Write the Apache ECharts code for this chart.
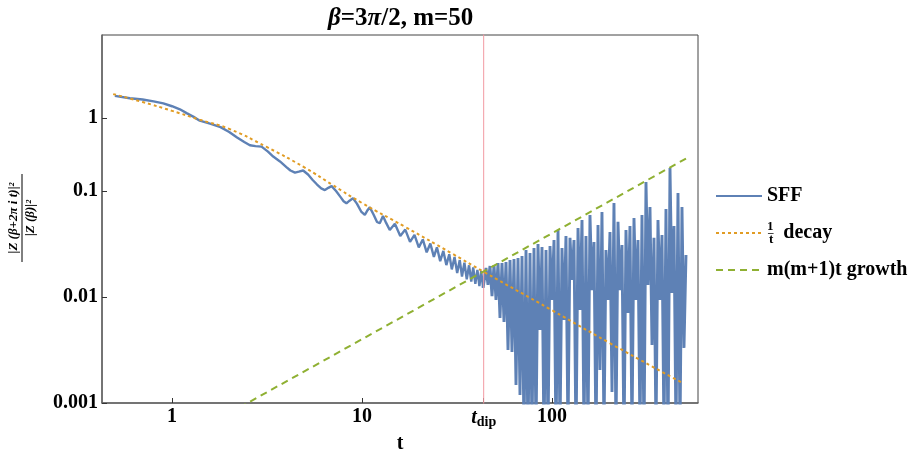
<!DOCTYPE html>
<html><head><meta charset="utf-8">
<script src="https://cdn.jsdelivr.net/npm/echarts@6/dist/echarts.min.js"></script>
<style>html,body{margin:0;padding:0;background:#fff;overflow:hidden}#c{width:915px;height:450px}</style>
</head><body><div id="c"></div>
<script>
// SFF, early smooth part
const sffT1 = [0.5,0.6,0.7,0.8,0.9,1.0,1.1,1.2,1.3,1.4,1.6,1.8,2.0,2.2,2.4,2.57,2.75,2.96,3.2,3.41,3.7,4.0,4.2,4.44,4.65,4.9,5.2,5.5,5.8,6.1,6.38,6.65,6.92,7.3,7.7,8.0,8.28,8.6,8.97,9.4,9.9,10.35,10.7,11.0,11.5,12.0,12.4,12.9,13.4,14.0];
const sffV1 = [0.79,0.75,0.73,0.70,0.67,0.63,0.59,0.54,0.50,0.46,0.43,0.40,0.36,0.32,0.29,0.27,0.265,0.262,0.235,0.211,0.19,0.168,0.156,0.149,0.152,0.156,0.143,0.127,0.115,0.106,0.102,0.107,0.111,0.10,0.088,0.08,0.0765,0.081,0.0853,0.076,0.064,0.0595,0.066,0.070,0.06,0.051,0.0496,0.058,0.05,0.0429];
// SFF, oscillations before the dip
const sffT2 = [14.9,15.9,16.9,17.9,18.9,19.9,20.9,21.9,22.9,23.9,24.8,25.8,26.8,27.8,28.8,29.7,30.7,31.7,32.7,33.6,34.6,35.6,36.6,37.6,38.5,39.5,40.5,41.5,42.4,43.4];
const sffV2 = [0.049,0.0377,0.0432,0.0331,0.0386,0.0294,0.0349,0.0264,0.0319,0.0239,0.0294,0.0218,0.0272,0.02,0.0253,0.0182,0.0238,0.0168,0.0223,0.0156,0.0211,0.0147,0.0199,0.014,0.019,0.0133,0.018,0.0127,0.0175,0.0122];
// SFF, ramp / plateau region after the dip
const sffT3 = [44.95,46.05,47.18,48.34,49.53,50.74,51.99,53.26,54.57,55.91,57.28,58.69,60.13,61.6,63.11,64.66,66.25,67.87,69.54,71.24,72.99,74.78,76.62,78.5,80.42,82.4,84.42,86.49,88.61,90.79,93.02,95.3,97.64,100.0,102.5,105.0,107.6,110.2,112.9,115.7,118.5,121.4,124.4,127.5,130.6,133.8,137.1,140.4,143.9,147.4,151.0,154.7,158.5,162.4,166.4,170.5,174.7,178.9,183.3,187.8,192.4,197.2,202.0,207.0,212.0,217.2,222.6,228.0,233.6,239.4,245.2,251.2,257.4,263.7,270.2,276.8,283.6,290.6,297.7,305.0,312.5,320.2,328.0,336.1,344.3,352.8,361.4,370.3,379.4,388.7,398.2,408.0,418.0,428.3,438.8,449.5,460.6,471.9,483.4,495.3,507.5];
const sffV3 = [0.0188,0.013,0.0196,0.0102,0.02,0.00937,0.0209,0.00634,0.0209,0.00581,0.0214,0.00316,0.0223,0.00303,0.0228,0.00148,0.0233,0.00119,0.0244,0.0005,0.0277,0.0004,0.026,0.0005,0.029,0.0005,0.0316,0.00489,0.0296,0.0004,0.0277,0.0005,0.0303,0.00937,0.0345,0.0004,0.0429,0.0005,0.029,0.00607,0.0376,0.0005,0.0361,0.01445,0.0345,0.0004,0.0448,0.00754,0.0532,0.0005,0.0376,0.0005,0.0594,0.0116,0.033,0.0004,0.0478,0.00205,0.0634,0.0005,0.0277,0.00937,0.041,0.00127,0.0771,0.0005,0.0511,0.0116,0.0309,0.0004,0.0429,0.00706,0.0468,0.0005,0.0556,0.00937,0.0345,0.0005,0.0594,0.0004,0.1216,0.013,0.0706,0.00352,0.0361,0.0005,0.0532,0.00937,0.0385,0.0005,0.0676,0.0004,0.165,0.0109,0.0468,0.0005,0.0957,0.0005,0.0706,0.00331,0.0249];
// 1/t decay curve
const decayT = [0.49,0.7,1.0,1.4,2.0,3.15,5.0,7.0,10,16.8,30,43.7,100,200,491];
const decayV = [0.82,0.69,0.57,0.47,0.385,0.26,0.166,0.114,0.077,0.046,0.0255,0.0173,0.0075,0.0037,0.00153];
// m(m+1)t growth line
const growthT = [2.0, 512];
const growthV = [0.0008, 0.204];
// dip time marker
const tDip = 43.7;
const dipV = [0.0005, 5];
// tick labels
const xTickValues = [1, 10, tDip, 100];
const xTickLabels = ['1', '10', 't_dip', '100'];
const yTickValues = [0.001, 0.01, 0.1, 0.49];
const yTickLabels = ['0.001', '0.01', '0.1', '1'];
const seriesNames = ['SFF', '1/t decay', 'm(m+1)t growth'];

const FONT = '"Liberation Serif", "Times New Roman", serif';
const zip = (a, b) => a.map((v, i) => [v, b[i]]);
const sffEarly = zip(sffT1.concat(sffT2), sffV1.concat(sffV2));
const sffLate = [sffEarly[sffEarly.length - 1]].concat(zip(sffT3, sffV3));
function nearIdx(arr, v) {
  for (let i = 0; i < arr.length; i++) {
    if (Math.abs(Math.log10(v) - Math.log10(arr[i])) < 0.004) return i;
  }
  return -1;
}
const BLUE = '#5e81b5';

const chart = echarts.init(document.getElementById('c'));
chart.setOption({
  animation: false,
  backgroundColor: '#fff',
  textStyle: { fontFamily: FONT },
  title: {
    text: '{i|β}=3{i|π}/2, m=50',
    left: 323, top: 1,
    textStyle: {
      fontFamily: FONT, fontWeight: 'bold', fontSize: 25, color: '#000',
      rich: { i: { fontFamily: FONT, fontStyle: 'italic', fontWeight: 'bold', fontSize: 25, color: '#000' } }
    }
  },
  grid: { left: 102, right: 217, top: 35, bottom: 47, show: true, borderColor: '#444', borderWidth: 1, containLabel: false, outerBoundsMode: 'none' },
  legend: {
    orient: 'vertical', left: 710, top: 181,
    itemWidth: 46, itemHeight: 14, itemGap: 14,
    data: seriesNames,
    itemStyle: { opacity: 0 },
    textStyle: {
      fontFamily: FONT, fontWeight: 'bold', fontSize: 20, color: '#000',
      rich: {
        n: { fontFamily: FONT, fontWeight: 'bold', fontSize: 13, lineHeight: 13, width: 1, align: 'left', verticalAlign: 'top', color: '#000' },
        bar: { fontFamily: FONT, fontWeight: 'bold', fontSize: 11, width: 1, align: 'left', verticalAlign: 'middle', color: '#000' },
        d: { fontFamily: FONT, fontWeight: 'bold', fontSize: 13, lineHeight: 13, verticalAlign: 'bottom', color: '#000' },
        b: { fontFamily: FONT, fontWeight: 'bold', fontSize: 20, lineHeight: 26, color: '#000' }
      }
    },
    formatter: function (name) {
      if (name === '1/t decay') return '{n|1}{bar|–}{d|t}{b|  decay}';
      return name;
    }
  },
  xAxis: {
    type: 'log', min: 0.428, max: 587,
    name: 't', nameLocation: 'middle', nameGap: 29,
    nameTextStyle: { fontFamily: FONT, fontWeight: 'bold', fontSize: 20, color: '#000' },
    axisLine: { show: true, lineStyle: { color: '#666', width: 1.5 } },
    axisTick: { show: true, inside: true, length: 5, lineStyle: { color: '#333' }, customValues: xTickValues },
    splitLine: { show: false },
    minorTick: { show: false },
    axisLabel: {
      customValues: xTickValues,
      margin: 4, color: '#000', fontFamily: FONT, fontWeight: 'bold', fontSize: 20,
      formatter: function (v) {
        const i = nearIdx(xTickValues, v);
        if (i < 0) return '';
        if (xTickLabels[i] === 't_dip') return '{it|t}{sub|dip}';
        return xTickLabels[i];
      },
      rich: {
        it: { fontFamily: FONT, fontStyle: 'italic', fontWeight: 'bold', fontSize: 20, color: '#000' },
        sub: { fontFamily: FONT, fontWeight: 'bold', fontSize: 14, color: '#000', padding: [8, 0, 0, 0] }
      }
    }
  },
  yAxis: {
    type: 'log', min: 0.001, max: 2.96,
    axisLine: { show: true, lineStyle: { color: '#666', width: 1.5 } },
    axisTick: { show: true, inside: true, length: 5, lineStyle: { color: '#333' }, customValues: yTickValues },
    splitLine: { show: false },
    minorTick: { show: false },
    axisLabel: {
      customValues: yTickValues,
      margin: 4, color: '#000', fontFamily: FONT, fontWeight: 'bold', fontSize: 20,
      formatter: function (v) {
        const i = nearIdx(yTickValues, v);
        return i < 0 ? '' : yTickLabels[i];
      }
    }
  },
  graphic: [{
    type: 'group', x: 22, y: 218, rotation: Math.PI / 2,
    children: [
      { type: 'text', x: 0, y: -2, style: { text: '|Z (β+2π i t)|²', fill: '#000', font: 'italic bold 13px ' + FONT, align: 'center', verticalAlign: 'bottom' } },
      { type: 'line', shape: { x1: -44, y1: 0, x2: 44, y2: 0 }, style: { stroke: '#000', lineWidth: 1 } },
      { type: 'text', x: 0, y: 2, style: { text: '|Z (β)|²', fill: '#000', font: 'italic bold 13px ' + FONT, align: 'center', verticalAlign: 'top' } }
    ]
  }],
  series: [
    {
      name: seriesNames[0], type: 'line', data: sffEarly, showSymbol: false, symbol: 'none',
      lineStyle: { color: BLUE, width: 2.4 }, itemStyle: { color: BLUE }, clip: true
    },
    {
      name: seriesNames[0], type: 'line', data: sffLate, showSymbol: false, symbol: 'none',
      lineStyle: { color: BLUE, width: 2.9 }, itemStyle: { color: BLUE }, clip: true
    },
    {
      name: 'dip', type: 'line', data: zip([tDip, tDip], dipV), showSymbol: false, symbol: 'none', silent: true,
      lineStyle: { color: '#f29aa2', width: 1 }, itemStyle: { color: '#f29aa2' }, clip: true
    },
    {
      name: seriesNames[1], type: 'line', data: zip(decayT, decayV), showSymbol: false, symbol: 'none', smooth: true,
      lineStyle: { color: '#e19c24', width: 2, type: [3, 3] }, itemStyle: { color: '#e19c24' }, clip: true
    },
    {
      name: seriesNames[2], type: 'line', data: zip(growthT, growthV), showSymbol: false, symbol: 'none',
      lineStyle: { color: '#8fb032', width: 2, type: [7, 5] }, itemStyle: { color: '#8fb032' }, clip: true
    }
  ]
});
</script>
</body></html>
